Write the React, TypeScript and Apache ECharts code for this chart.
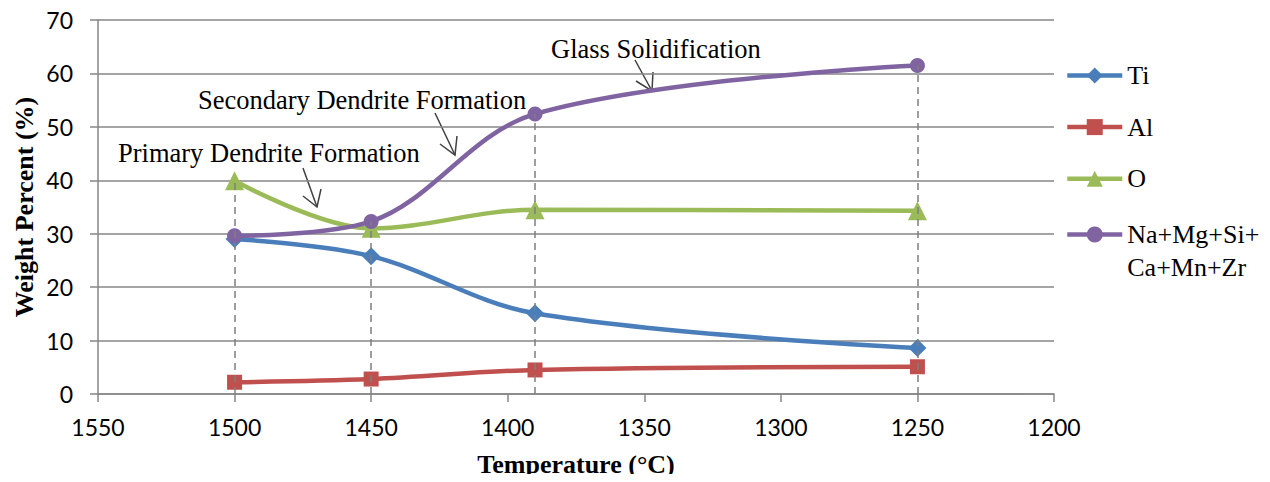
import React, { useEffect, useRef } from "react";
import * as echarts from "echarts";

const temperatures = [1500, 1450, 1390, 1250];
const tiValues = [29.0, 25.8, 15.1, 8.6];
const alValues = [2.2, 2.8, 4.5, 5.1];
const oValues = [39.9, 31.0, 34.5, 34.3];
const otherValues = [29.6, 32.3, 52.4, 61.5];
const seriesNames = ["Ti", "Al", "O", "Na+Mg+Si+Ca+Mn+Zr"];
const annotations = ["Primary Dendrite Formation", "Secondary Dendrite Formation", "Glass Solidification"];

const SERIF = '"Liberation Serif", "Times New Roman", serif';
const SANS = 'Lato, "Open Sans", sans-serif';
const GRID = "#868686";

export default function App() {
  const ref = useRef<HTMLDivElement>(null);
  useEffect(() => {
    if (!ref.current) return;
    const chart = echarts.init(ref.current, undefined, { renderer: "svg" });
    const mk = (v: number[]) => temperatures.map((t, i) => [t, v[i]]);
    const maxes = temperatures.map((_, i) => Math.max(tiValues[i], alValues[i], oValues[i], otherValues[i]));
    const lineW = 4.5;
    const arrow = (x1: number, y1: number, x2: number, y2: number, a: number[], b: number[]) => [
      { type: "line", shape: { x1, y1, x2, y2 }, style: { stroke: "#404040", lineWidth: 1.5 } },
      { type: "polyline", shape: { points: [a, [x2, y2], b] }, style: { stroke: "#404040", lineWidth: 1.5, fill: null } },
    ];
    const text = (t: string, x: number, y: number) => ({
      type: "text",
      x,
      y,
      style: { text: t, font: `26.5px ${SERIF}`, fill: "#000", textAlign: "left", textVerticalAlign: "middle", align: "left", verticalAlign: "middle" },
    });
    const legendBase = {
      orient: "vertical",
      left: 1065,
      padding: 0,
      itemWidth: 55,
      itemHeight: 20,
      itemGap: 25.6,
      lineStyle: { width: lineW },
      textStyle: { fontFamily: SERIF, fontSize: 26, color: "#000", lineHeight: 20 },
    };
    const option: any = {
      animation: false,
      backgroundColor: "#fff",
      grid: { left: 98, right: 216, top: 20, bottom: 88, outerBoundsMode: "none", containLabel: false },
      legend: [
        { ...legendBase, top: 62.5, data: seriesNames.slice(0, 3) },
        {
          ...legendBase,
          top: 188.5,
          data: [seriesNames[3]],
          formatter: () => "{e| }\n{a|Na+Mg+Si+}\n{a|Ca+Mn+Zr}",
          textStyle: {
            fontFamily: SERIF,
            fontSize: 26,
            color: "#000",
            rich: {
              e: { lineHeight: 33, fontSize: 26, fontFamily: SERIF },
              a: { lineHeight: 33, fontSize: 26, fontFamily: SERIF, color: "#000" },
            },
          },
        },
      ],
      xAxis: {
        type: "value",
        inverse: true,
        min: 1200,
        max: 1550,
        interval: 50,
        name: "Temperature (°C)",
        nameLocation: "middle",
        nameGap: 57,
        nameMoveOverlap: false,
        nameTextStyle: { fontFamily: SERIF, fontSize: 26, fontWeight: "bold", color: "#000" },
        axisLine: { show: true, lineStyle: { color: GRID, width: 1.5 } },
        axisTick: { show: true, length: 8, lineStyle: { color: GRID, width: 1.5 } },
        axisLabel: { fontFamily: SANS, fontSize: 23, color: "#000", margin: 21, formatter: (v: number) => String(v) },
        splitLine: { show: false },
      },
      yAxis: {
        type: "value",
        min: 0,
        max: 70,
        interval: 10,
        name: "Weight Percent (%)",
        nameLocation: "middle",
        nameGap: 61,
        nameMoveOverlap: false,
        nameTextStyle: { fontFamily: SERIF, fontSize: 26, fontWeight: "bold", color: "#000" },
        axisLine: { show: true, lineStyle: { color: GRID, width: 1.5 } },
        axisTick: { show: true, length: 8, lineStyle: { color: GRID, width: 1.5 } },
        axisLabel: { fontFamily: SANS, fontSize: 23, color: "#000", margin: 25, formatter: (v: number) => String(v) },
        splitLine: { show: true, lineStyle: { color: GRID, width: 1.5 } },
      },
      series: [
        {
          name: "_drop",
          type: "line",
          data: [],
          z: 1,
          silent: true,
          markLine: {
            silent: true,
            symbol: "none",
            label: { show: false },
            lineStyle: { color: "#7f7f7f", type: [7, 5], width: 1.5 },
            data: temperatures.map((t, i) => [{ coord: [t, 0] }, { coord: [t, maxes[i]] }]),
          },
        },
        {
          name: seriesNames[0],
          type: "line",
          data: mk(tiValues),
          smooth: 0.35,
          symbol: "diamond",
          symbolSize: 18,
          color: "#4A7EBB",
          lineStyle: { width: lineW, color: "#4A7EBB" },
          itemStyle: { color: "#4A7EBB" },
        },
        {
          name: seriesNames[1],
          type: "line",
          data: mk(alValues),
          smooth: 0.35,
          symbol: "rect",
          symbolSize: 15,
          color: "#C0504D",
          lineStyle: { width: lineW, color: "#C0504D" },
          itemStyle: { color: "#C0504D" },
        },
        {
          name: seriesNames[2],
          type: "line",
          data: mk(oValues),
          smooth: 0.35,
          symbol: "triangle",
          symbolSize: 19,
          color: "#9BBB59",
          lineStyle: { width: lineW, color: "#9BBB59" },
          itemStyle: { color: "#9BBB59" },
        },
        {
          name: seriesNames[3],
          type: "line",
          data: mk(otherValues),
          smooth: 0.35,
          symbol: "circle",
          symbolSize: 15,
          color: "#8064A2",
          lineStyle: { width: lineW, color: "#8064A2" },
          itemStyle: { color: "#8064A2" },
        },
      ],
      graphic: [
        text(annotations[0], 118, 153),
        text(annotations[1], 198, 100),
        text(annotations[2], 551, 49),
        ...arrow(303, 168, 317, 207, [303, 196], [321, 189]),
        ...arrow(435, 113, 455, 155, [440, 144], [457, 136]),
        ...arrow(635, 60, 652, 91, [636, 81], [653, 72]),
      ],
    };
    chart.setOption(option);
    return () => chart.dispose();
  }, []);
  return <div ref={ref} style={{ width: 1270, height: 482, margin: -8 }} />;
}
